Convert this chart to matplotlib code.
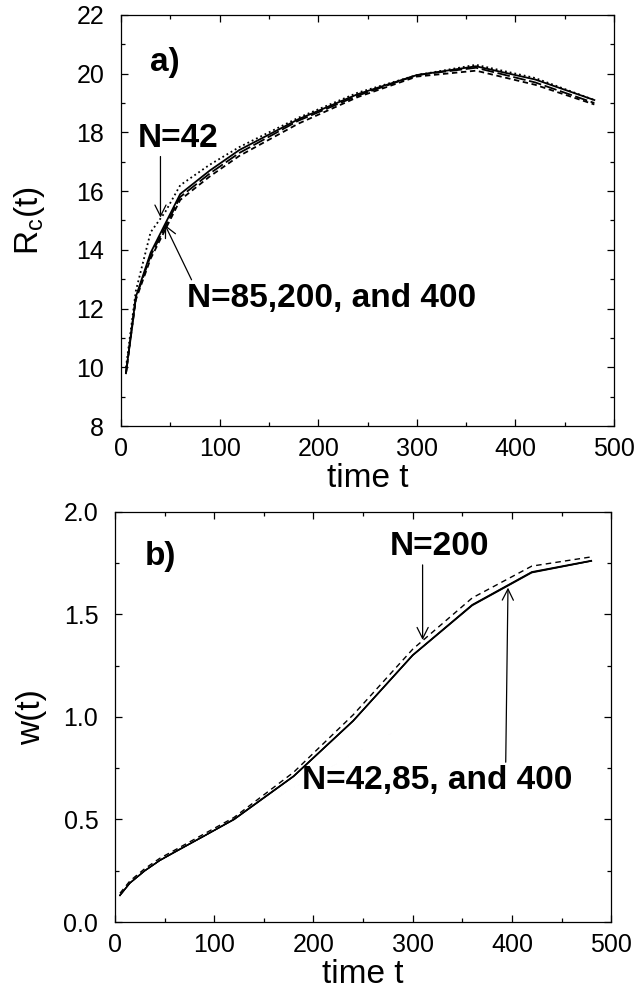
import matplotlib
matplotlib.use('Agg')
import matplotlib.pyplot as plt
from matplotlib.ticker import MultipleLocator, FormatStrFormatter

plt.rcParams['font.family'] = ['Liberation Sans', 'DejaVu Sans']

# time points of the simulation
t = [5, 15, 30, 45, 60, 90, 120, 180, 240, 300, 360, 420, 480]

# panel a) R_c(t)
rc_n42 = [10.0, 12.6, 14.6, 15.3, 16.2, 16.9, 17.5, 18.5, 19.35, 19.95, 20.3, 19.85, 19.1]
rc_n85 = [9.8, 12.3, 13.7, 14.7, 15.7, 16.5, 17.2, 18.3, 19.2, 19.9, 20.1, 19.62, 18.95]
rc_n200 = [9.8, 12.35, 13.8, 14.8, 15.8, 16.6, 17.3, 18.4, 19.25, 19.95, 20.2, 19.7, 19.0]
rc_n400 = [9.8, 12.4, 13.9, 14.9, 15.9, 16.7, 17.4, 18.45, 19.3, 19.95, 20.25, 19.8, 19.1]

# panel b) w(t)
w_n42 = [0.13, 0.19, 0.25, 0.30, 0.34, 0.42, 0.50, 0.71, 0.98, 1.30, 1.545, 1.705, 1.76]
w_n85 = [0.13, 0.19, 0.25, 0.30, 0.342, 0.42, 0.502, 0.712, 0.982, 1.302, 1.547, 1.707, 1.762]
w_n400 = [0.13, 0.19, 0.25, 0.30, 0.34, 0.42, 0.50, 0.71, 0.98, 1.30, 1.543, 1.703, 1.76]
w_n200 = [0.14, 0.20, 0.26, 0.31, 0.35, 0.43, 0.51, 0.73, 1.01, 1.33, 1.58, 1.735, 1.78]

TICK_FS = 18
LABEL_FS = 24
ANN_FS = 24

fig = plt.figure(figsize=(6.37, 9.91), dpi=100)
ax1 = fig.add_axes([0.190, 0.570, 0.774, 0.415])
ax2 = fig.add_axes([0.1805, 0.0696, 0.779, 0.414])


def style_axis(ax):
    for s in ax.spines.values():
        s.set_linewidth(0.9)
    ax.tick_params(which='both', direction='in', top=True, right=True,
                   labelsize=TICK_FS, width=0.9)
    ax.tick_params(which='major', length=5, pad=8)
    ax.tick_params(which='minor', length=3)
    ax.tick_params(axis='y', which='major', pad=12)
    ax.set_xlim(0, 500)
    ax.xaxis.set_major_locator(MultipleLocator(100))
    ax.xaxis.set_minor_locator(MultipleLocator(50))
    ax.set_xlabel('time t', fontsize=LABEL_FS, labelpad=1)


def arrow(relpos):
    return dict(arrowstyle='->', color='black', lw=0.9, shrinkA=0, shrinkB=0,
                mutation_scale=20, relpos=relpos)


# ---- panel a ----
lw = 1.3
ax1.plot(t, rc_n42, color='black', linestyle=':', linewidth=lw)
ax1.plot(t, rc_n85, color='black', linestyle=(0, (3, 2)), linewidth=lw)
ax1.plot(t, rc_n200, color='black', linestyle=(0, (7, 2)), linewidth=lw)
ax1.plot(t, rc_n400, color='black', linestyle='-', linewidth=lw)
style_axis(ax1)
ax1.set_ylim(8, 22)
ax1.yaxis.set_major_locator(MultipleLocator(2))
ax1.yaxis.set_minor_locator(MultipleLocator(1))
ax1.set_ylabel(r'R$_\mathregular{c}$(t)', fontsize=LABEL_FS)
ax1.yaxis.set_label_coords(-0.15, 0.5)

ax1.text(29, 20.1, 'a)', fontsize=ANN_FS, fontweight='bold')
ax1.annotate('N=42', xy=(40, 15.1), xytext=(58, 17.8), fontsize=ANN_FS,
             fontweight='bold', ha='center', va='center',
             arrowprops=arrow((0.28, 0.0)))
ax1.annotate('N=85,200, and 400', xy=(44.6, 14.85), xytext=(67, 12.36),
             fontsize=ANN_FS, fontweight='bold', ha='left', va='center',
             arrowprops=arrow((0.02, 1.0)))

# ---- panel b ----
ax2.plot(t, w_n42, color='black', linestyle='-', linewidth=1.0)
ax2.plot(t, w_n85, color='black', linestyle='-', linewidth=1.0)
ax2.plot(t, w_n400, color='black', linestyle='-', linewidth=1.0)
ax2.plot(t, w_n200, color='black', linestyle=(0, (4, 3)), linewidth=1.0)
style_axis(ax2)
ax2.set_ylim(0, 2.0)
ax2.yaxis.set_major_locator(MultipleLocator(0.5))
ax2.yaxis.set_minor_locator(MultipleLocator(0.25))
ax2.yaxis.set_major_formatter(FormatStrFormatter('%.1f'))
ax2.set_ylabel('w(t)', fontsize=LABEL_FS)
ax2.yaxis.set_label_coords(-0.137, 0.5)

ax2.text(30, 1.74, 'b)', fontsize=ANN_FS, fontweight='bold')
ax2.annotate('N=200', xy=(310, 1.375), xytext=(327, 1.83), fontsize=ANN_FS,
             fontweight='bold', ha='center', va='center',
             arrowprops=arrow((0.33, 0.0)))
ax2.annotate('N=42,85, and 400', xy=(396, 1.63), xytext=(188, 0.69),
             fontsize=ANN_FS, fontweight='bold', ha='left', va='center',
             arrowprops=arrow((0.755, 1.0)))

fig.savefig('out.png', dpi=100)
